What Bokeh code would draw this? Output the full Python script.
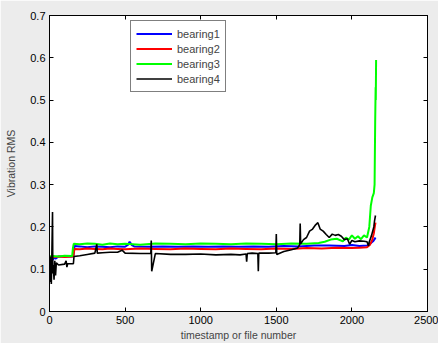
from bokeh.plotting import figure
from bokeh.models import LinearAxis, FixedTicker, Legend, LegendItem, Range1d
from bokeh.embed import file_html
from bokeh.resources import INLINE

# ---- data ----
b1_x = [0, 10, 20, 30, 40, 60, 100, 150, 158, 165, 200, 250, 300, 350, 400, 450, 500, 520, 530, 545, 560, 650, 750, 850, 950,
        1050, 1150, 1250, 1350, 1450, 1550, 1650, 1750, 1850, 1950, 2000, 2050, 2100, 2120, 2140, 2150, 2156]
b1_y = [0.13, 0.125, 0.122, 0.128, 0.125, 0.13, 0.13, 0.13, 0.131, 0.155, 0.154, 0.152, 0.154, 0.153, 0.152, 0.154, 0.153, 0.158, 0.165, 0.157, 0.154, 0.153, 0.154,
        0.153, 0.154, 0.153, 0.154, 0.153, 0.154, 0.153, 0.155, 0.154, 0.156, 0.156, 0.155, 0.157, 0.155, 0.156, 0.16, 0.166, 0.171, 0.175]

b2_x = [0, 20, 60, 100, 150, 158, 165, 200, 250, 300, 350, 400, 450, 500, 600, 700, 800, 900, 1000, 1100, 1200, 1300, 1400, 1500,
        1600, 1700, 1800, 1900, 2000, 2050, 2100, 2120, 2135, 2145, 2150, 2156]
b2_y = [0.13, 0.128, 0.13, 0.129, 0.13, 0.131, 0.148, 0.147, 0.149, 0.148, 0.147, 0.149, 0.148, 0.147, 0.149, 0.148, 0.147, 0.149, 0.148, 0.147,
        0.149, 0.148, 0.147, 0.149, 0.148, 0.15, 0.149, 0.151, 0.15, 0.151, 0.152, 0.158, 0.17, 0.185, 0.197, 0.21]

b3_x = [0, 20, 60, 100, 150, 155, 160, 200, 250, 300, 350, 400, 450, 500, 600, 700, 800, 900, 1000, 1100, 1200, 1300, 1400, 1500,
        1600, 1700, 1780, 1820, 1860, 1900, 1940, 1960, 1980, 2000, 2020, 2040, 2060, 2080, 2100, 2115, 2125, 2135, 2145,
        2150, 2154, 2157, 2158, 2160]
b3_y = [0.13, 0.131, 0.13, 0.132, 0.131, 0.15, 0.16, 0.159, 0.161, 0.16, 0.158, 0.161, 0.159, 0.16, 0.158, 0.161, 0.16, 0.159, 0.161, 0.16,
        0.159, 0.161, 0.16, 0.159, 0.161, 0.16, 0.162, 0.165, 0.17, 0.172, 0.166, 0.175, 0.17, 0.18, 0.172, 0.178, 0.171, 0.18,
        0.175, 0.2, 0.25, 0.27, 0.28, 0.3, 0.45, 0.53, 0.5, 0.595]

b4_x = [0, 5, 8, 12, 15, 20, 22, 25, 30, 35, 40, 45, 60, 100, 110, 115, 120, 158, 162, 200, 250, 300, 313, 316, 350, 400, 450,
        480, 500, 600, 670, 673, 676, 700, 800, 900, 1000, 1100, 1200, 1260, 1300, 1304, 1308, 1340, 1378, 1381, 1384,
        1450, 1497, 1500, 1503, 1550, 1600, 1640, 1655, 1658, 1661, 1680, 1700, 1720, 1740, 1760, 1775, 1790, 1810,
        1830, 1850, 1870, 1890, 1910, 1930, 1950, 1970, 1985, 2000, 2020, 2050, 2080, 2100, 2110, 2115, 2130, 2145,
        2150, 2156]
b4_y = [0.12, 0.07, 0.13, 0.065, 0.12, 0.235, 0.09, 0.11, 0.075, 0.12, 0.085, 0.115, 0.11, 0.112, 0.12, 0.105, 0.113, 0.113, 0.13, 0.132,
        0.135, 0.138, 0.159, 0.138, 0.139, 0.14, 0.14, 0.145, 0.138, 0.137, 0.137, 0.168, 0.095, 0.137, 0.135, 0.135, 0.136, 0.134,
        0.135, 0.134, 0.136, 0.118, 0.137, 0.138, 0.137, 0.095, 0.138, 0.138, 0.139, 0.183, 0.135, 0.142, 0.146, 0.15, 0.158, 0.208,
        0.16, 0.17, 0.175, 0.19, 0.195, 0.205, 0.21, 0.195, 0.19, 0.182, 0.175, 0.183, 0.18, 0.182, 0.178, 0.17, 0.172, 0.159,
        0.168, 0.165, 0.167, 0.166, 0.165, 0.155, 0.165, 0.18, 0.2, 0.215, 0.227]

labels = ["bearing1", "bearing2", "bearing3", "bearing4"]
x_ticks = [0, 500, 1000, 1500, 2000, 2500]
y_ticks = [0, 0.1, 0.2, 0.3, 0.4, 0.5, 0.6, 0.7]

FONT = "Liberation Sans"

p = figure(width=438, height=343, output_backend="svg", toolbar_location=None,
           x_range=Range1d(0, 2500), y_range=Range1d(0, 0.7),
           min_border_left=49, min_border_right=11, min_border_top=15, min_border_bottom=32)
p.background_fill_color = "white"
p.border_fill_color = "#ececec"
p.outline_line_color = "black"
p.xgrid.visible = False
p.ygrid.visible = False

r1 = p.line(b1_x, b1_y, line_color="#0000ff", line_width=2)
r2 = p.line(b2_x, b2_y, line_color="#ff0000", line_width=2)
r3 = p.line(b3_x, b3_y, line_color="#00ff00", line_width=2)
r4 = p.line(b4_x, b4_y, line_color="black", line_width=1.6)

def style_axis(ax, ticks, show_labels):
    ax.ticker = FixedTicker(ticks=ticks)
    ax.major_tick_in = 4
    ax.major_tick_out = 0
    ax.minor_tick_line_color = None
    ax.axis_line_color = "black"
    ax.major_tick_line_color = "black"
    ax.major_label_text_font = FONT
    ax.major_label_text_color = "black"
    ax.major_label_text_font_size = "11px"
    if not show_labels:
        ax.major_label_overrides = {t: "" for t in ticks}
        ax.major_label_standoff = 0

xa = p.xaxis[0]
ya = p.yaxis[0]
style_axis(xa, x_ticks, True)
style_axis(ya, y_ticks, True)
xa.major_label_standoff = 4
ya.major_label_standoff = 4
ya.major_label_overrides = {0: "0"}
xa.axis_label = "timestamp or file number"
ya.axis_label = "Vibration RMS"
for ax in (xa, ya):
    ax.axis_label_text_font = FONT
    ax.axis_label_text_font_size = "10.5px"
    ax.axis_label_text_font_style = "normal"
xa.axis_label_standoff = 2
ya.axis_label_standoff = 10

top = LinearAxis()
style_axis(top, x_ticks, False)
right = LinearAxis()
style_axis(right, y_ticks, False)
p.add_layout(top, "above")
p.add_layout(right, "right")

legend = Legend(items=[LegendItem(label=l, renderers=[r]) for l, r in zip(labels, [r1, r2, r3, r4])],
                location=(81, 219))
legend.border_line_color = "black"
legend.border_line_width = 1
legend.background_fill_color = "white"
legend.background_fill_alpha = 1
legend.label_text_font = FONT
legend.label_text_font_size = "11px"
legend.glyph_width = 36
legend.glyph_height = 15
legend.label_height = 15
legend.label_standoff = 5
legend.padding = 5
legend.spacing = 0
legend.margin = 0
p.add_layout(legend, "center")

open("out.html", "w").write(file_html(p, INLINE))
